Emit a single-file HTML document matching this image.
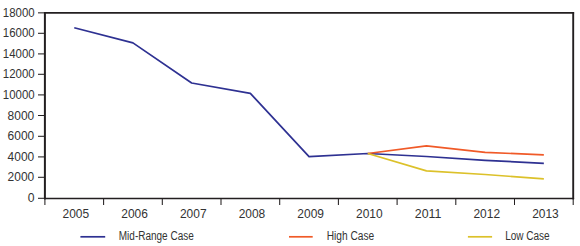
<!DOCTYPE html>
<html><head><meta charset="utf-8"><style>
html,body{margin:0;padding:0;background:#fff;width:580px;height:246px;overflow:hidden}
svg{display:block}
text{font-family:"Liberation Sans",sans-serif;font-size:12.2px;fill:#333}
.lg{font-size:12px}
</style></head><body>
<svg width="580" height="246" viewBox="0 0 580 246">
<path d="M44.0 12.9 H574.1" stroke="#231f20" stroke-width="1.6"/>
<path d="M44.0 198.5 H574.1" stroke="#231f20" stroke-width="1.7"/>
<path d="M44.9 12.1 V199.3" stroke="#231f20" stroke-width="2"/>
<path d="M573.2 12.1 V199.3" stroke="#231f20" stroke-width="1.9"/>
<line x1="38" y1="198.30" x2="44.9" y2="198.30" stroke="#231f20" stroke-width="1.05"/>
<text x="34.6" y="202.30" text-anchor="end">0</text>
<line x1="38" y1="177.30" x2="44.9" y2="177.30" stroke="#231f20" stroke-width="1.05"/>
<text x="34.2" y="181.30" text-anchor="end" textLength="26.6" lengthAdjust="spacingAndGlyphs">2000</text>
<line x1="38" y1="156.90" x2="44.9" y2="156.90" stroke="#231f20" stroke-width="1.05"/>
<text x="34.2" y="160.90" text-anchor="end" textLength="26.6" lengthAdjust="spacingAndGlyphs">4000</text>
<line x1="38" y1="136.30" x2="44.9" y2="136.30" stroke="#231f20" stroke-width="1.05"/>
<text x="34.2" y="140.30" text-anchor="end" textLength="26.6" lengthAdjust="spacingAndGlyphs">6000</text>
<line x1="38" y1="115.50" x2="44.9" y2="115.50" stroke="#231f20" stroke-width="1.05"/>
<text x="34.2" y="119.50" text-anchor="end" textLength="26.6" lengthAdjust="spacingAndGlyphs">8000</text>
<line x1="38" y1="94.90" x2="44.9" y2="94.90" stroke="#231f20" stroke-width="1.05"/>
<text x="34.6" y="98.90" text-anchor="end" textLength="31.8" lengthAdjust="spacingAndGlyphs">10000</text>
<line x1="38" y1="74.30" x2="44.9" y2="74.30" stroke="#231f20" stroke-width="1.05"/>
<text x="34.6" y="78.30" text-anchor="end" textLength="31.8" lengthAdjust="spacingAndGlyphs">12000</text>
<line x1="38" y1="53.90" x2="44.9" y2="53.90" stroke="#231f20" stroke-width="1.05"/>
<text x="34.6" y="57.90" text-anchor="end" textLength="31.8" lengthAdjust="spacingAndGlyphs">14000</text>
<line x1="38" y1="33.30" x2="44.9" y2="33.30" stroke="#231f20" stroke-width="1.05"/>
<text x="34.6" y="37.30" text-anchor="end" textLength="31.8" lengthAdjust="spacingAndGlyphs">16000</text>
<line x1="38" y1="12.85" x2="44.9" y2="12.85" stroke="#231f20" stroke-width="1.05"/>
<text x="34.6" y="16.85" text-anchor="end" textLength="31.8" lengthAdjust="spacingAndGlyphs">18000</text>
<line x1="44.90" y1="198.35" x2="44.90" y2="205" stroke="#231f20" stroke-width="1.05"/>
<line x1="103.60" y1="198.35" x2="103.60" y2="205" stroke="#231f20" stroke-width="1.05"/>
<line x1="162.30" y1="198.35" x2="162.30" y2="205" stroke="#231f20" stroke-width="1.05"/>
<line x1="221.00" y1="198.35" x2="221.00" y2="205" stroke="#231f20" stroke-width="1.05"/>
<line x1="279.70" y1="198.35" x2="279.70" y2="205" stroke="#231f20" stroke-width="1.05"/>
<line x1="338.40" y1="198.35" x2="338.40" y2="205" stroke="#231f20" stroke-width="1.05"/>
<line x1="397.10" y1="198.35" x2="397.10" y2="205" stroke="#231f20" stroke-width="1.05"/>
<line x1="455.80" y1="198.35" x2="455.80" y2="205" stroke="#231f20" stroke-width="1.05"/>
<line x1="514.50" y1="198.35" x2="514.50" y2="205" stroke="#231f20" stroke-width="1.05"/>
<line x1="573.20" y1="198.35" x2="573.20" y2="205" stroke="#231f20" stroke-width="1.05"/>
<text x="75.85" y="218.2" text-anchor="middle" textLength="26.6" lengthAdjust="spacingAndGlyphs">2005</text>
<text x="134.55" y="218.2" text-anchor="middle" textLength="26.6" lengthAdjust="spacingAndGlyphs">2006</text>
<text x="193.25" y="218.2" text-anchor="middle" textLength="26.6" lengthAdjust="spacingAndGlyphs">2007</text>
<text x="251.95" y="218.2" text-anchor="middle" textLength="26.6" lengthAdjust="spacingAndGlyphs">2008</text>
<text x="310.65" y="218.2" text-anchor="middle" textLength="26.6" lengthAdjust="spacingAndGlyphs">2009</text>
<text x="369.35" y="218.2" text-anchor="middle" textLength="26.6" lengthAdjust="spacingAndGlyphs">2010</text>
<text x="428.05" y="218.2" text-anchor="middle" textLength="26.6" lengthAdjust="spacingAndGlyphs">2011</text>
<text x="486.75" y="218.2" text-anchor="middle" textLength="26.6" lengthAdjust="spacingAndGlyphs">2012</text>
<text x="545.45" y="218.2" text-anchor="middle" textLength="26.6" lengthAdjust="spacingAndGlyphs">2013</text>
<polyline points="74.25,27.80 132.95,42.90 191.65,83.00 250.35,93.30 309.05,156.70 367.75,153.50 426.45,156.50 485.15,160.30 543.85,163.40" fill="none" stroke="#2e3192" stroke-width="1.7" stroke-linejoin="round"/>
<polyline points="367.75,153.50 426.45,145.90 485.15,152.40 543.85,154.80" fill="none" stroke="#f05a28" stroke-width="1.7" stroke-linejoin="round"/>
<polyline points="367.75,153.50 426.45,170.90 485.15,174.50 543.85,178.90" fill="none" stroke="#dcc12a" stroke-width="1.7" stroke-linejoin="round"/>
<line x1="80.4" y1="236.8" x2="105.2" y2="236.8" stroke="#2e3192" stroke-width="1.7"/>
<text class="lg" x="118.8" y="239.9" textLength="75" lengthAdjust="spacingAndGlyphs">Mid-Range Case</text>
<line x1="289" y1="236.8" x2="312.7" y2="236.8" stroke="#f05a28" stroke-width="1.7"/>
<text class="lg" x="326.7" y="239.9" textLength="47.5" lengthAdjust="spacingAndGlyphs">High Case</text>
<line x1="467.9" y1="236.8" x2="492.1" y2="236.8" stroke="#dcc12a" stroke-width="1.7"/>
<text class="lg" x="505.2" y="239.9" textLength="44.5" lengthAdjust="spacingAndGlyphs">Low Case</text>
</svg>
</body></html>
